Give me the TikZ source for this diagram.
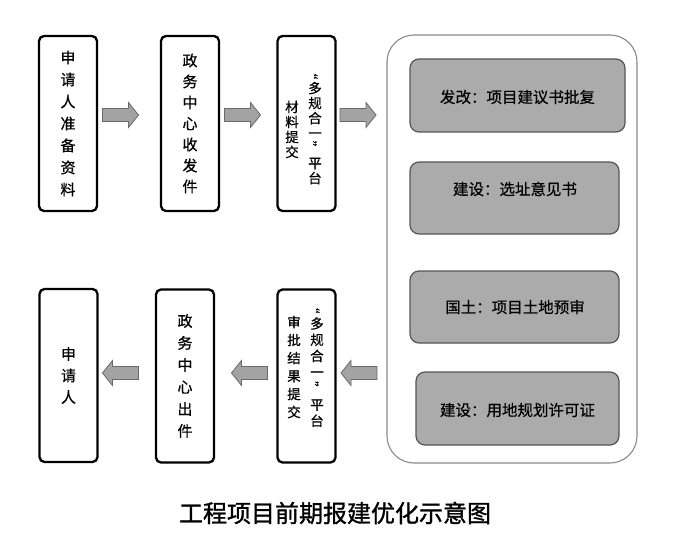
\documentclass[tikz,border=0pt]{standalone}
\usepackage{fontspec}
\usepackage{graphicx}
\newfontfamily\cjk[FakeBold=0.7]{Noto Sans CJK SC}
\newfontfamily\cjkg[FakeBold=0.5]{Noto Sans CJK SC}
\newfontfamily\cjkt[FakeBold=1.2]{Noto Sans CJK SC}
\definecolor{arrowfill}{HTML}{A3A3A3}
\definecolor{arrowline}{HTML}{6A6A6A}
\definecolor{grayfill}{HTML}{ABABAB}
\definecolor{grayline}{HTML}{555555}
\definecolor{frameline}{HTML}{8A8A8A}
\newcommand{\qopen}{\makebox[0pt][c]{\kern-6pt\rotatebox[origin=c]{-90}{“}}}
\newcommand{\qclose}{\makebox[0pt][c]{\kern-8pt\rotatebox[origin=c]{-90}{”}}}
\tikzset{
  wbox/.style={draw=black, line width=2.3pt, rounded corners=5pt, fill=white,
    minimum width=58pt, inner sep=0pt, align=center,
    font=\cjk\fontsize{15}{22}\selectfont},
  colA/.style={inner sep=0pt, align=center, font=\cjk\fontsize{13.5}{15}\selectfont},
  colB/.style={inner sep=0pt, align=center, font=\cjk\fontsize{13.5}{16.2}\selectfont},
  gbox/.style={draw=grayline, line width=1.2pt, rounded corners=9pt, fill=grayfill,
    inner sep=0pt},
  gtext/.style={inner sep=0pt, font=\cjkg\fontsize{15.5}{18}\selectfont},
  frame/.style={draw=frameline, line width=1.1pt, rounded corners=27pt, fill=white,
    minimum width=250pt, minimum height=428pt, inner sep=0pt},
  blockarr/.style={fill=arrowfill, draw=arrowline, line width=0.8pt, line join=miter},
  pics/rarrow/.style={code={
    \path[blockarr] (0,-6.5) -- (26,-6.5) -- (26,-12.5) -- (36,0) -- (26,12.5)
      -- (26,6.5) -- (0,6.5) -- cycle;}},
  pics/larrow/.style={code={
    \path[blockarr] (0,-6.5) -- (-26,-6.5) -- (-26,-12.5) -- (-36,0) -- (-26,12.5)
      -- (-26,6.5) -- (0,6.5) -- cycle;}},
}
\begin{document}
\begin{tikzpicture}[x=1pt,y=-1pt]
\useasboundingbox[fill=white] (0,0) rectangle (700,556);

% top row boxes
\node[wbox, minimum height=175pt] (t1) at (68,123.5) {申\\请\\人\\准\\备\\资\\料};
\node[wbox, minimum height=175pt, font=\cjk\fontsize{15}{21}\selectfont] (t2) at (190,123.5) {政\\务\\中\\心\\收\\发\\件};
\node[wbox, minimum height=175pt] (t3) at (306.5,123.5) {};
\node[colA] (t3r) at (315,125) {\qopen\\多\\规\\合\\一\\\qclose\\平\\台};
\node[colA] (t3l) at (292,129.5) {材\\料\\提\\交};

% bottom row boxes
\node[wbox, minimum height=173pt, font=\cjk\fontsize{15}{21.5}\selectfont] (b1) at (68.5,375.5) {申\\请\\人};
\node[wbox, minimum height=173pt] (b2) at (185,376) {政\\务\\中\\心\\出\\件};
\node[wbox, minimum height=173pt] (b3) at (306.5,376) {};
\node[colB] (b3r) at (317,363.5) {\qopen\\多\\规\\合\\一\\\qclose\\平\\台};
\node[colA, font=\cjk\fontsize{13.5}{18}\selectfont] (b3l) at (294,367) {审\\批\\结\\果\\提\\交};

% container and gray boxes
\node[frame] (fr) at (512,249) {};
\node[gbox, minimum width=215pt, minimum height=73pt] (g1) at (517.5,95.5) {};
\node[gtext] (g1t) at (517.5,97) {发改：项目建议书批复};
\node[gbox, minimum width=209pt, minimum height=72pt] (g2) at (514.5,198) {};
\node[gtext] (g2t) at (515,189) {建设：选址意见书};
\node[gbox, minimum width=209pt, minimum height=72pt] (g3) at (514.5,307) {};
\node[gtext] (g3t) at (515,307) {国土：项目土地预审};
\node[gbox, minimum width=203pt, minimum height=73pt] (g4) at (517.5,408.5) {};
\node[gtext] (g4t) at (517.5,410) {建设：用地规划许可证};

% block arrows
\pic at (102.5,115) {rarrow};
\pic at (224.5,115) {rarrow};
\pic at (340,115) {rarrow};
\pic at (138.5,373) {larrow};
\pic at (267.5,373) {larrow};
\pic at (377,373) {larrow};

% title
\node[inner sep=0pt, font=\cjkt\fontsize{24}{27}\selectfont] (title) at (335,513) {工程项目前期报建优化示意图};
\end{tikzpicture}
\end{document}
